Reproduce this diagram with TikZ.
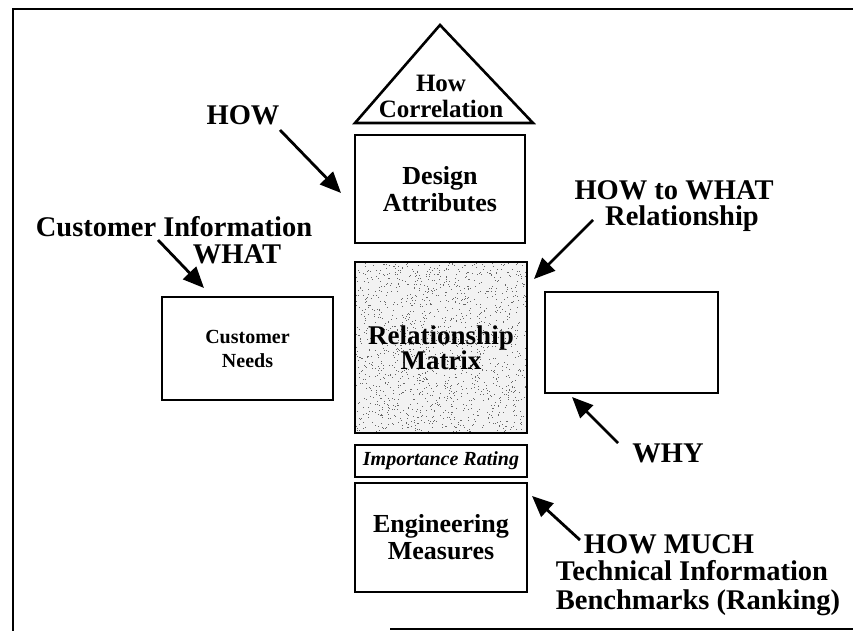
\documentclass[tikz,border=0pt]{standalone}
\usepackage{fontspec}
\setmainfont{Liberation Serif}
\usetikzlibrary{arrows.meta}
\begin{document}
\begin{tikzpicture}[x=1pt,y=-1pt,
  box/.style={draw=black,line width=2.6pt,inner sep=0pt,align=center,fill=white},
  boxfont/.style={font=\fontsize{26}{27}\selectfont\bfseries},
  lbl/.style={font=\fontsize{28.5}{30}\selectfont\bfseries,inner sep=0pt,anchor=base},
  arr/.style={line width=2.8pt,-{Triangle[length=21pt,width=18pt]}},
  frame/.style={line width=2.8pt}]
\useasboundingbox (0,0) rectangle (853,631);
% frame
\coordinate (ftl) at (13,9);
\coordinate (ftr) at (853,9);
\coordinate (fbl) at (13,631);
\draw[frame] (ftr) -- (ftl) -- (fbl);
\coordinate (fb1) at (390,629);
\coordinate (fb2) at (853,629);
\draw[line width=1.2pt] (fb1) -- (fb2);
% triangle
\coordinate (tapex) at (440,25);
\coordinate (tbl) at (355,123);
\coordinate (tbr) at (533,123);
\draw[line width=2.6pt,line join=miter] (tapex) -- (tbl) -- (tbr) -- cycle;
\node[align=center,inner sep=0pt,font=\fontsize{25}{26}\selectfont\bfseries] (howcorr) at (441,96) {How\\Correlation};
% boxes
\node[box,boxfont,minimum width=170pt,minimum height=108pt] (da) at (440,189) {Design\\Attributes};
\node[box,font=\fontsize{20}{24}\selectfont\bfseries,minimum width=171pt,minimum height=103pt] (cn) at (247.5,348.5) {Customer\\Needs};
\node[box,draw=none,fill=black!5,minimum width=172pt,minimum height=171pt] (rm) at (441,347.5) {};
\begin{scope}
\clip (rm.south west) rectangle (rm.north east);
\pgfmathsetseed{7}
\foreach \i in {1,...,1500}{
  \pgfmathsetmacro\rx{355+rnd*172}
  \pgfmathsetmacro\ry{262+rnd*171}
  \fill[black!60] (\rx,\ry) rectangle ++(1,1);
}
\end{scope}
\node[box,fill=none,font=\fontsize{27}{25}\selectfont\bfseries,minimum width=172pt,minimum height=171pt] (rmt) at (441,347.5) {Relationship\\Matrix};
\node[box,minimum width=173pt,minimum height=101pt] (rb) at (631.5,342.5) {};
\node[box,font=\fontsize{20}{22}\selectfont\bfseries\itshape,minimum width=172pt,minimum height=32pt] (ir) at (441,461) {Importance Rating};
\node[box,boxfont,minimum width=172pt,minimum height=109pt] (em) at (441,537.5) {Engineering\\Measures};
% labels
\node[lbl] (how) at (243,125) {HOW};
\node[lbl] (ci) at (174,236) {Customer Information};
\node[lbl] (what) at (237,263) {WHAT};
\node[lbl] (htw) at (674,199) {HOW to WHAT};
\node[lbl] (rel) at (682,225) {Relationship};
\node[lbl] (why) at (668,462) {WHY};
\node[lbl] (hm) at (669,553) {HOW MUCH};
\node[lbl] (ti) at (692,580) {Technical Information};
\node[lbl] (bm) at (698,609) {Benchmarks (Ranking)};
% arrows
\coordinate (a1s) at (280,130); \coordinate (a1e) at (341,193);
\coordinate (a2s) at (158,240); \coordinate (a2e) at (204,288);
\coordinate (a3s) at (593,220); \coordinate (a3e) at (534,279);
\coordinate (a4s) at (618,443); \coordinate (a4e) at (572,397);
\coordinate (a5s) at (580,540); \coordinate (a5e) at (532,496);
\draw[arr] (a1s) -- (a1e);
\draw[arr] (a2s) -- (a2e);
\draw[arr] (a3s) -- (a3e);
\draw[arr] (a4s) -- (a4e);
\draw[arr] (a5s) -- (a5e);
\end{tikzpicture}
\end{document}
